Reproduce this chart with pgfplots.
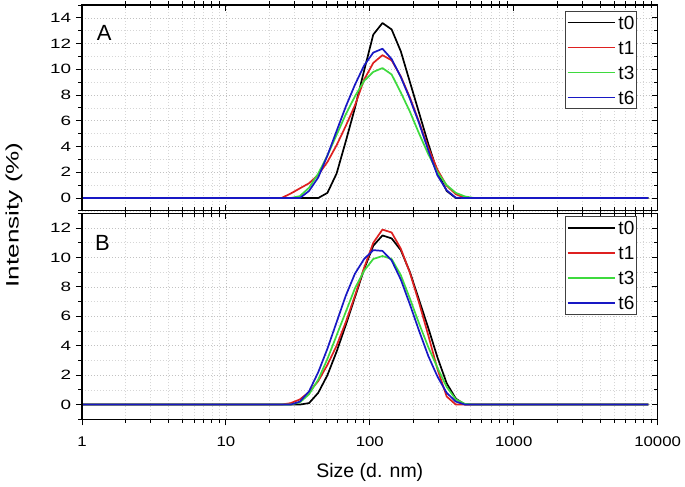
\documentclass[border=0pt]{standalone}
\usepackage{fontspec}
\setmainfont{Liberation Sans}
\usepackage{pgfplots}
\pgfplotsset{compat=1.18}
\definecolor{cred}{RGB}{222,32,32}
\definecolor{cgreen}{RGB}{62,218,62}
\definecolor{cblue}{RGB}{24,24,196}

\pgfplotsset{
  dlsbase/.style={
    scale only axis, width=576pt, height=206pt,
    xmin=1, xmax=10000,
    xtick={1,10,100,1000,10000},
    minor xtick={2,3,4,5,6,7,8,9,20,30,40,50,60,70,80,90,200,300,400,500,600,700,800,900,2000,3000,4000,5000,6000,7000,8000,9000},
    major tick length=6pt, minor tick length=3.5pt,
    axis line style={line width=1.1pt},
    every tick/.style={black, line width=0.9pt},
    xticklabel style={font=\fontsize{14}{14}\selectfont, xscale=1.2, yshift=-8pt},
    yticklabel style={font=\fontsize{13.5}{13.5}\selectfont, xscale=1.4},
  },
  dlsmain/.style={
    dlsbase, grid=both,
    grid style={dash pattern=on 1.1pt off 1.9pt, black!24, line width=0.7pt},
    minor grid style={dash pattern=on 1.1pt off 1.9pt, black!16, line width=0.7pt},
    tick align=inside, ytick pos=right,
    xticklabels={}, yticklabels={},
    legend cell align=left,
    every axis plot post/.append style={line width=1.7pt, line join=round},
    legend image code/.code={\draw[##1, line width=1.7pt] (0pt,0pt) -- (47pt,0pt);},
  },
}

\begin{document}
\begin{tikzpicture}

% ---------------- Panel A ----------------
\begin{axis}[xmode=log, dlsmain, at={(82pt,482pt)}, anchor=north west,
  legend style={at={(1,1)}, anchor=north east, xshift=-21pt, yshift=-6pt,
    draw=black!75, line width=0.7pt, font=\fontsize{19}{19}\selectfont,
    inner xsep=1pt, inner ysep=3.5pt, row sep=9.5pt, column sep=2pt,
    nodes={inner sep=1pt, text height=13.5pt, text depth=0pt}},
  ymin=-1, ymax=15, ytick={0,2,...,14}, minor ytick={-1,1,...,15}, xtick pos=both]
\addplot[black] coordinates {(0.9649,0) (43.82,0) (50.75,0.4) (58.77,1.9) (68.06,4.4) (78.82,7.0) (91.28,9.9) (105.7,12.7) (122.4,13.6) (141.8,13.1) (164.2,11.4) (190.1,9.0) (220.2,6.6) (255.0,4.2) (295.3,2.0) (342.0,0.55) (396.1,0) (8635,0)};
\addlegendentry{t0}
\addplot[cred] coordinates {(0.9649,0) (24.36,0) (28.21,0.35) (32.67,0.75) (37.84,1.15) (43.82,1.8) (50.75,2.8) (58.77,4.1) (68.06,5.6) (78.82,7.2) (91.28,9.2) (105.7,10.5) (122.4,11.1) (141.8,10.7) (164.2,9.45) (190.1,7.8) (220.2,5.9) (255.0,3.9) (295.3,2.2) (342.0,0.95) (396.1,0.3) (458.7,0) (8635,0)};
\addlegendentry{t1}
\addplot[cgreen] coordinates {(0.9649,0) (28.21,0) (32.67,0.15) (37.84,0.8) (43.82,1.9) (50.75,3.3) (58.77,4.9) (68.06,6.5) (78.82,7.9) (91.28,9.1) (105.7,9.8) (122.4,10.1) (141.8,9.6) (164.2,8.2) (190.1,6.7) (220.2,5.0) (255.0,3.4) (295.3,2.0) (342.0,1.0) (396.1,0.4) (458.7,0.12) (531.2,0) (8635,0)};
\addlegendentry{t3}
\addplot[cblue] coordinates {(0.9649,0) (32.67,0) (37.84,0.55) (43.82,1.6) (50.75,3.3) (58.77,5.2) (68.06,7.1) (78.82,8.8) (91.28,10.3) (105.7,11.3) (122.4,11.6) (141.8,10.8) (164.2,9.4) (190.1,7.7) (220.2,5.8) (255.0,3.7) (295.3,1.75) (342.0,0.6) (396.1,0.02) (458.7,0) (8635,0)};
\addlegendentry{t6}
\node[font=\fontsize{22}{22}\selectfont] at (rel axis cs:0.0387,0.864) {A};
\end{axis}
\begin{axis}[xmode=log, dlsbase, at={(82pt,482pt)}, anchor=north west,
  ymin=-1, ymax=15, ytick={0,2,...,14}, minor ytick={-1,1,...,15},
  tick align=outside, ytick pos=left, xmajorticks=false, xminorticks=false,
  /pgf/number format/assume math mode=true]
\end{axis}

% ---------------- Panel B ----------------
\begin{axis}[xmode=log, dlsmain, at={(82pt,273.5pt)}, anchor=north west,
  legend style={at={(1,1)}, anchor=north east, xshift=-21pt, yshift=-3pt,
    draw=black!75, line width=0.7pt, font=\fontsize{19}{19}\selectfont,
    inner xsep=1pt, inner ysep=3.5pt, row sep=9.5pt, column sep=2pt,
    nodes={inner sep=1pt, text height=13.5pt, text depth=0pt}},
  ymin=-1, ymax=13, ytick={0,2,...,12}, minor ytick={-1,1,...,13}, xtick pos=top]
\addplot[black] coordinates {(0.9649,0) (32.67,0) (37.84,0.1) (43.82,0.8) (50.75,2.0) (58.77,3.6) (68.06,5.4) (78.82,7.3) (91.28,9.2) (105.7,10.8) (122.4,11.5) (141.8,11.3) (164.2,10.5) (190.1,9.0) (220.2,7.1) (255.0,5.2) (295.3,3.2) (342.0,1.45) (396.1,0.4) (458.7,0) (8635,0)};
\addlegendentry{t0}
\addplot[cred] coordinates {(0.9649,0) (24.36,0) (28.21,0.1) (32.67,0.35) (37.84,0.85) (43.82,1.6) (50.75,2.7) (58.77,4.0) (68.06,5.6) (78.82,7.4) (91.28,9.3) (105.7,11.0) (122.4,11.9) (141.8,11.7) (164.2,10.6) (190.1,8.95) (220.2,6.9) (255.0,4.7) (295.3,2.4) (342.0,0.55) (396.1,0) (8635,0)};
\addlegendentry{t1}
\addplot[cgreen] coordinates {(0.9649,0) (28.21,0) (32.67,0.15) (37.84,0.7) (43.82,1.7) (50.75,3.1) (58.77,4.7) (68.06,6.3) (78.82,7.9) (91.28,9.1) (105.7,9.9) (122.4,10.1) (141.8,9.9) (164.2,8.8) (190.1,7.2) (220.2,5.5) (255.0,3.9) (295.3,2.5) (342.0,1.2) (396.1,0.35) (458.7,0.05) (531.2,0) (8635,0)};
\addlegendentry{t3}
\addplot[cblue] coordinates {(0.9649,0) (28.21,0) (32.67,0.2) (37.84,0.9) (43.82,2.2) (50.75,3.8) (58.77,5.6) (68.06,7.4) (78.82,8.9) (91.28,9.9) (105.7,10.5) (122.4,10.45) (141.8,9.8) (164.2,8.5) (190.1,6.8) (220.2,5.0) (255.0,3.3) (295.3,1.9) (342.0,0.8) (396.1,0.2) (458.7,0) (8635,0)};
\addlegendentry{t6}
\node[font=\fontsize{22}{22}\selectfont] at (rel axis cs:0.0356,0.857) {B};
\end{axis}
\begin{axis}[xmode=log, dlsbase, at={(82pt,273.5pt)}, anchor=north west,
  ymin=-1, ymax=13, ytick={0,2,...,12}, minor ytick={-1,1,...,13},
  tick align=outside, ytick pos=left, xtick pos=bottom,
  xticklabels={1,10,100,1000,10000},
  /pgf/number format/assume math mode=true]
\end{axis}

\node[font=\fontsize{19.5}{19.5}\selectfont] at (370pt,14pt) {Size (d. nm)};
\node[rotate=90, xscale=1.45, font=\fontsize{18}{18}\selectfont] at (14pt,272pt) {Intensity (\%)};
\path (0pt,0pt) rectangle (685pt,487pt);
\end{tikzpicture}
\end{document}
